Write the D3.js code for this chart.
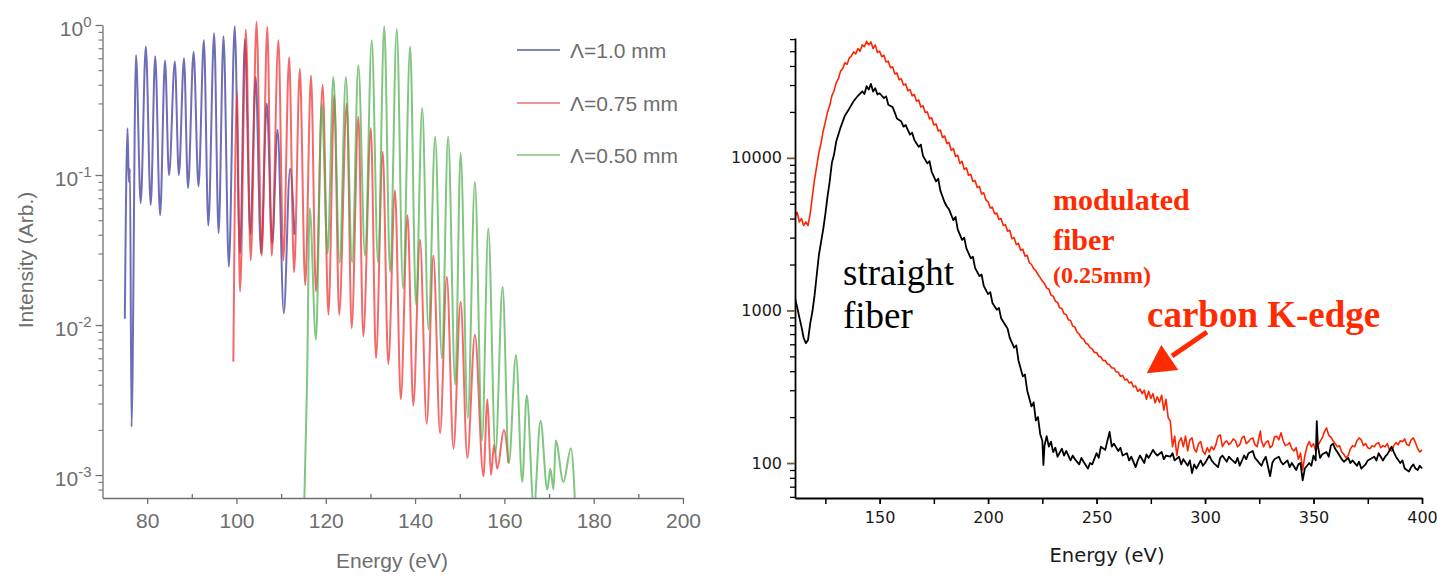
<!DOCTYPE html>
<html><head><meta charset="utf-8">
<script src="https://cdn.jsdelivr.net/npm/d3@7"></script>
<style>body{margin:0;background:#fff;} svg{display:block;}</style>
</head><body>
<svg id="c" width="1437" height="576"></svg>
<script>
// ---------- LEFT CHART DATA: [energy eV, intensity] ----------
const seriesNames = ["\u039B=1.0 mm", "\u039B=0.75 mm", "\u039B=0.50 mm"];
const leftXTicks = [80, 100, 120, 140, 160, 180, 200];
const leftXMinor = [90, 110, 130, 150, 170, 190];
const leftYTicks = [1e-3, 1e-2, 1e-1, 1];
const leftYExp = ["-3", "-2", "-1", "0"];

const blue10 = [[75.0,0.011],[75.6,0.205],[75.9,0.09],[76.15,0.11],[76.5,0.0021],[77.5,0.63],[78.55,0.065],[79.7,0.72],[80.8,0.063],[81.8,0.62],[82.9,0.054],[84.0,0.58],[84.9,0.1],[86.2,0.57],[87.1,0.1],[88.25,0.6],[89.15,0.082],[90.4,0.66],[91.5,0.084],[92.7,0.79],[93.7,0.046],[95.0,0.88],[96.0,0.041],[97.1,0.84],[98.3,0.0245],[99.6,0.98],[100.8,0.03],[101.9,0.8],[103.1,0.04],[104.3,0.45],[105.5,0.03],[106.8,0.3],[108.0,0.035],[109.2,0.2],[110.6,0.012],[112.0,0.11],[113.0,0.04]];

const red075 = [[99.3,0.0057],[100.1,0.36],[100.8,0.0167],[102.1,0.93],[103.2,0.027],[104.5,1.05],[105.65,0.029],[106.9,0.97],[107.9,0.029],[109.4,0.79],[110.5,0.027],[111.8,0.61],[112.9,0.0225],[114.2,0.51],[115.4,0.0184],[116.7,0.46],[117.8,0.0167],[119.3,0.40],[120.6,0.0117],[121.9,0.34],[123.0,0.0117],[124.7,0.30],[125.8,0.0095],[127.3,0.245],[128.4,0.0084],[130.1,0.205],[131.25,0.006],[132.75,0.143],[134.0,0.0055],[135.5,0.079],[136.8,0.0032],[138.3,0.054],[139.6,0.0029],[141.1,0.037],[142.6,0.0022],[144.1,0.029],[145.6,0.0019],[147.1,0.021],[148.6,0.0015],[150.2,0.0143],[151.7,0.0013],[153.4,0.0086],[155.3,0.00098],[156.2,0.0032],[157.0,0.001],[157.7,0.0016],[158.4,0.0011],[159.9,0.002],[160.9,0.0012]];

const green050 = [[115.1,0.0005],[115.8,0.004],[116.4,0.06],[117.8,0.008],[119.1,0.3],[120.4,0.03],[121.7,0.45],[123.1,0.026],[124.5,0.45],[125.9,0.026],[127.3,0.54],[128.8,0.029],[130.3,0.79],[131.7,0.026],[133.1,0.98],[134.4,0.0226],[135.9,0.94],[137.3,0.0176],[138.9,0.72],[140.2,0.0137],[141.6,0.28],[143.0,0.0093],[144.5,0.18],[146.0,0.006],[147.4,0.18],[149.0,0.004],[150.2,0.14],[151.8,0.0024],[153.4,0.09],[155.0,0.0017],[156.4,0.044],[158.0,0.0014],[159.6,0.018],[161.0,0.0012],[162.6,0.0063],[164.0,0.0009],[165.0,0.0034],[166.6,0.0006],[168.1,0.0023],[169.6,0.0008],[170.3,0.0011],[171.0,0.0008],[171.5,0.0017],[173.2,0.0009],[174.9,0.0015],[176.0,0.0005]];

// ---------- RIGHT CHART DATA: [energy eV, counts] ----------
const rightXTicks = [150, 200, 250, 300, 350, 400];
const rightXMinor = [125, 175, 225, 275, 325, 375];
const rightYTicks = [100, 1000, 10000];

const straightFiber = [[110,1300],[111,1200],[112,1050],[113,900],[114,780],[115,660],[116,610],[117,640],[118,820],[119,980],[120,1250],[121,1700],[122,2300],[123,2800],[124,3400],[125,4300],[126,5600],[127,7000],[128,9300],[129,10500],[130,12800],[132,15800],[134,18900],[136,21000],[138,23500],[140,25500],[142,27300],[143,26200],[144,29500],[145,28000],[146,30500],[147,27200],[148,28600],[149,26000],[150,26500],[152,24600],[153,25300],[154,22300],[156,21500],[157,19800],[158,18100],[160,17300],[161,16000],[162,16400],[164,14200],[165,14600],[166,13100],[168,11800],[169,12200],[170,10300],[172,9200],[173,9500],[174,8100],[176,7000],[177,7300],[178,6100],[180,5100],[181,4800],[182,4600],[184,3900],[185,4100],[186,3400],[188,2900],[189,3000],[190,2550],[192,2200],[193,2250],[194,1900],[196,1680],[197,1720],[198,1450],[200,1280],[201,1320],[202,1120],[204,1010],[205,1040],[206,890],[208,800],[209,760],[210,660],[212,570],[213,590],[214,470],[216,370],[217,380],[218,300],[220,235],[221,250],[222,190],[223,200],[224,155],[225,140],[225.5,97],[226,130],[227,150],[228,128],[229,138],[230,118],[231,126],[232,110],[234,124],[235,112],[236,120],[238,104],[239,112],[240,106],[242,98],[243,108],[244,102],[246,92],[247,100],[248,98],[250,116],[251,108],[252,128],[254,122],[255,140],[256,160],[257,128],[258,134],[260,120],[261,126],[262,112],[264,116],[265,104],[266,110],[268,94],[269,104],[270,112],[272,100],[273,114],[274,108],[276,122],[277,116],[278,112],[280,118],[281,106],[282,112],[284,110],[285,116],[286,104],[288,110],[289,98],[290,106],[292,96],[293,104],[294,86],[295,98],[296,92],[298,104],[299,96],[300,100],[302,112],[303,104],[304,100],[306,94],[307,108],[308,112],[310,102],[311,110],[312,106],[314,100],[315,108],[316,96],[318,112],[319,106],[320,116],[322,120],[323,108],[324,104],[326,96],[327,104],[328,110],[330,82],[331,100],[332,106],[334,110],[335,102],[336,98],[338,104],[339,94],[340,100],[342,90],[343,98],[344,100],[345,77],[346,92],[348,100],[349,96],[350,112],[351,104],[351.5,188],[352,130],[353,108],[354,114],[356,118],[357,110],[358,130],[359,134],[360,124],[362,112],[363,106],[364,102],[366,108],[367,100],[368,104],[370,96],[371,102],[372,92],[374,98],[375,104],[376,106],[378,110],[379,104],[380,116],[382,104],[383,110],[384,114],[386,128],[387,118],[388,110],[390,100],[391,104],[392,92],[394,88],[395,94],[396,98],[397,92],[398,90],[399,96],[400,92]];

const modulatedFiber = [[110,4500],[111,4100],[112,4400],[113,3800],[114,4000],[115,3600],[116,3800],[117,3600],[118,4300],[119,5600],[120,7200],[121,8800],[122,10800],[123,12500],[124,15000],[125,17200],[126,20000],[127,22000],[128,25500],[129,27500],[130,31000],[131,33000],[132,37000],[133,38500],[134,42000],[135,41000],[136,45000],[137,46500],[138,49500],[139,48000],[140,52000],[141,50000],[142,55000],[143,53500],[144,58000],[145,55000],[146,57500],[147,52000],[148,55000],[149,49000],[150,50000],[151,46000],[152,47000],[153,42500],[154,43000],[155,39000],[156,39500],[157,35500],[158,36000],[159,32500],[160,33000],[161,30000],[162,30500],[163,27500],[164,28000],[165,25500],[166,26000],[167,23500],[168,24000],[169,21500],[170,22000],[171,19800],[172,20000],[173,18000],[174,18300],[175,16400],[176,16700],[177,15000],[178,15200],[179,13600],[180,13900],[181,12400],[182,12600],[183,11200],[184,11500],[185,10200],[186,10400],[187,9200],[188,9500],[189,8400],[190,8600],[191,7700],[192,7800],[193,7000],[194,7100],[195,6400],[196,6500],[197,5800],[198,5900],[199,5300],[200,5150],[201,4700],[202,4750],[203,4300],[204,4350],[205,3950],[206,4000],[207,3600],[208,3650],[209,3300],[210,3350],[211,2950],[212,3000],[213,2700],[214,2750],[215,2480],[216,2520],[217,2270],[218,2300],[219,2060],[220,2000],[221,1880],[222,1820],[223,1720],[224,1640],[225,1560],[226,1500],[227,1400],[228,1380],[229,1260],[230,1240],[231,1150],[232,1130],[233,1040],[234,1030],[235,950],[236,940],[237,870],[238,860],[239,790],[240,780],[241,720],[242,700],[243,660],[244,650],[245,610],[246,600],[247,570],[248,560],[249,530],[250,530],[251,500],[252,495],[253,470],[254,470],[255,445],[256,440],[257,420],[258,420],[259,395],[260,395],[261,370],[262,375],[263,350],[264,355],[265,335],[266,340],[267,315],[268,320],[269,295],[270,305],[271,285],[272,300],[273,262],[274,295],[275,265],[276,285],[277,248],[278,272],[279,250],[280,278],[281,222],[282,262],[283,198],[284,188],[285,128],[286,150],[287,112],[288,138],[289,146],[290,128],[291,150],[292,120],[293,142],[294,146],[295,124],[296,118],[297,134],[298,138],[299,120],[300,114],[301,126],[302,118],[303,128],[304,122],[305,132],[306,150],[307,153],[308,128],[309,136],[310,140],[311,132],[312,136],[313,144],[314,140],[315,128],[316,132],[317,146],[318,150],[319,134],[320,138],[321,144],[322,146],[323,132],[324,128],[325,150],[325.5,162],[326,140],[327,128],[328,136],[329,140],[330,126],[331,130],[332,148],[333,150],[334,142],[335,158],[336,140],[337,130],[338,132],[339,136],[340,124],[341,120],[342,126],[343,106],[344,116],[345,90],[346,112],[347,128],[348,138],[349,128],[350,134],[351,120],[352,130],[353,138],[354,146],[355,160],[356,170],[357,152],[358,148],[359,140],[360,134],[361,128],[362,130],[363,118],[364,114],[365,108],[366,112],[367,124],[368,130],[369,128],[370,140],[371,146],[372,142],[373,130],[374,134],[375,126],[376,124],[377,130],[378,128],[379,134],[380,136],[381,126],[382,130],[383,128],[384,134],[385,122],[386,120],[387,130],[388,136],[389,132],[390,140],[391,138],[392,144],[393,132],[394,130],[395,142],[396,146],[397,136],[398,124],[399,118],[400,122]];

// ---------- DRAW ----------
const svg = d3.select("#c");
const LFONT = "'Liberation Sans', Arial, Helvetica, sans-serif";
const LGRAY = "#6e6e6e";

// LEFT
const xL = d3.scaleLinear().domain([70, 200]).range([102.5, 683]);
const yL = d3.scaleLog().domain([7.03e-4, 1]).range([498, 25]);

svg.append("clipPath").attr("id","clipL").append("rect")
  .attr("x", 102).attr("y", 10).attr("width", 585).attr("height", 488);

const lineL = d3.line().x(d => xL(d[0])).y(d => yL(d[1])).curve(d3.curveMonotoneX);
const leftSeries = [
  {data: blue10, color: "#36369a", legend: "#7f88ad"},
  {data: red075, color: "#ee3030", legend: "#f39393"},
  {data: green050, color: "#4fae4f", legend: "#9fd09f"}
];
const gL = svg.append("g").attr("clip-path", "url(#clipL)");
leftSeries.forEach(s => {
  gL.append("path").attr("d", lineL(s.data)).attr("fill", "none")
    .attr("stroke", s.color).attr("stroke-width", 2).attr("stroke-opacity", 0.72)
    .attr("stroke-linejoin", "round");
});

function styleAxis(g, color, width) {
  g.select(".domain").attr("stroke", color).attr("stroke-width", width);
  g.selectAll(".tick line").attr("stroke", color).attr("stroke-width", width);
}

// left x axis
const gxL = svg.append("g").attr("transform", "translate(0,498)")
  .call(d3.axisBottom(xL).tickValues(leftXTicks).tickSize(6).tickPadding(9).tickSizeOuter(0).tickFormat(d3.format("d")));
styleAxis(gxL, "#707070", 1.3);
gxL.selectAll(".tick text").attr("fill", LGRAY).attr("font-size", "21px").attr("font-family", LFONT);
const gxLm = svg.append("g").attr("transform", "translate(0,498)")
  .call(d3.axisBottom(xL).tickValues(leftXMinor).tickSize(-4).tickSizeOuter(0).tickFormat(""));
styleAxis(gxLm, "#707070", 1.3);
gxLm.select(".domain").remove();

// left y axis
const gyL = svg.append("g").attr("transform", "translate(102.5,0)")
  .call(d3.axisLeft(yL).tickValues(leftYTicks).tickSize(7).tickPadding(4).tickSizeOuter(0));
styleAxis(gyL, "#707070", 1.3);
gyL.selectAll(".tick text").each(function(d, i) {
  const t = d3.select(this);
  t.text(null).attr("fill", LGRAY).attr("font-size", "21px").attr("font-family", LFONT).attr("dy", "0.5em");
  t.append("tspan").text("10");
  t.append("tspan").attr("dy", "-0.6em").attr("font-size", "15px").text(leftYExp[i]);
});
const minorL = yL.ticks().filter(v => !leftYTicks.some(m => Math.abs(m - v) / m < 1e-6));
const gyLm = svg.append("g").attr("transform", "translate(102.5,0)")
  .call(d3.axisLeft(yL).tickValues(minorL).tickSize(4).tickSizeOuter(0).tickFormat(""));
styleAxis(gyLm, "#707070", 1.1);
gyLm.select(".domain").remove();

svg.append("text").attr("x", 392).attr("y", 568).attr("text-anchor", "middle")
  .attr("font-family", LFONT).attr("font-size", "21px").attr("fill", LGRAY).text("Energy (eV)");
svg.append("text").attr("transform", "translate(33,260) rotate(-90)").attr("text-anchor", "middle")
  .attr("font-family", LFONT).attr("font-size", "21px").attr("fill", LGRAY).text("Intensity (Arb.)");

// legend
const legendY = [50, 103, 155];
leftSeries.forEach((s, i) => {
  svg.append("line").attr("x1", 517).attr("x2", 560).attr("y1", legendY[i]).attr("y2", legendY[i])
    .attr("stroke", s.legend).attr("stroke-width", 1.8);
  svg.append("text").attr("x", 570).attr("y", legendY[i]).attr("dy", "0.36em")
    .attr("font-family", LFONT).attr("font-size", "21px").attr("fill", LGRAY).text(seriesNames[i]);
});

// RIGHT
const RFONT = "'DejaVu Sans', Verdana, sans-serif";
const xR = d3.scaleLinear().domain([111, 400]).range([795, 1422]);
const yR = d3.scaleLog().domain([59, 61000]).range([498, 38]);

svg.append("clipPath").attr("id","clipR").append("rect")
  .attr("x", 795).attr("y", 30).attr("width", 640).attr("height", 468);
const lineR = d3.line().x(d => xR(d[0])).y(d => yR(d[1]));
const gR = svg.append("g").attr("clip-path", "url(#clipR)");
gR.append("path").attr("d", lineR(modulatedFiber)).attr("fill", "none")
  .attr("stroke", "#ff2400").attr("stroke-width", 1.6).attr("stroke-linejoin", "round");
gR.append("path").attr("d", lineR(straightFiber)).attr("fill", "none")
  .attr("stroke", "#000").attr("stroke-width", 1.8).attr("stroke-linejoin", "round");

// right x axis
const gxR = svg.append("g").attr("transform", "translate(0,498)")
  .call(d3.axisBottom(xR).tickValues(rightXTicks).tickSize(6).tickPadding(8).tickSizeOuter(0).tickFormat(d3.format("d")));
styleAxis(gxR, "#000", 1.8);
gxR.selectAll(".tick text").attr("fill", "#1a1a1a").attr("font-size", "16px").attr("font-family", RFONT);
const gxRm = svg.append("g").attr("transform", "translate(0,498)")
  .call(d3.axisBottom(xR).tickValues(rightXMinor).tickSize(6).tickSizeOuter(0).tickFormat(""));
styleAxis(gxRm, "#000", 1.5);
gxRm.select(".domain").remove();

// right y axis
const gyR = svg.append("g").attr("transform", "translate(795,0)")
  .call(d3.axisLeft(yR).tickValues(rightYTicks).tickSize(8).tickPadding(5).tickSizeOuter(0).tickFormat(d3.format("d")));
styleAxis(gyR, "#000", 1.8);
gyR.selectAll(".tick line").attr("stroke", "#7a5a2a");
gyR.selectAll(".tick text").attr("fill", "#1a1a1a").attr("font-size", "16px").attr("font-family", RFONT);
const minorR = yR.ticks().filter(v => !rightYTicks.includes(v));
const gyRm = svg.append("g").attr("transform", "translate(795,0)")
  .call(d3.axisLeft(yR).tickValues(minorR).tickSize(5).tickSizeOuter(0).tickFormat(""));
styleAxis(gyRm, "#000", 1.3);
gyRm.select(".domain").remove();

svg.append("text").attr("x", 1107).attr("y", 562).attr("text-anchor", "middle")
  .attr("font-family", RFONT).attr("font-size", "19.5px").attr("fill", "#1a1a1a").text("Energy (eV)");

// annotations
const SERIF = "'Liberation Serif', 'Times New Roman', serif";
const RED = "#ff2a00";
svg.append("text").attr("x", 843).attr("y", 285).attr("font-family", SERIF).attr("font-size", "37px").attr("fill", "#000").text("straight");
svg.append("text").attr("x", 843).attr("y", 328).attr("font-family", SERIF).attr("font-size", "37px").attr("fill", "#000").text("fiber");
svg.append("text").attr("x", 1053).attr("y", 210).attr("font-family", SERIF).attr("font-weight", "bold").attr("font-size", "30px").attr("fill", RED).text("modulated");
svg.append("text").attr("x", 1053).attr("y", 250).attr("font-family", SERIF).attr("font-weight", "bold").attr("font-size", "30px").attr("fill", RED).text("fiber");
svg.append("text").attr("x", 1053).attr("y", 283).attr("font-family", SERIF).attr("font-weight", "bold").attr("font-size", "24px").attr("fill", RED).text("(0.25mm)");
svg.append("text").attr("x", 1147).attr("y", 327).attr("font-family", SERIF).attr("font-weight", "bold").attr("font-size", "37px").attr("fill", RED).text("carbon K-edge");
svg.append("line").attr("x1", 1207).attr("y1", 332).attr("x2", 1172).attr("y2", 356)
  .attr("stroke", RED).attr("stroke-width", 5);
svg.append("path").attr("d", "M1146.7,373.3 L1178.3,369.9 L1161.3,345.1 Z").attr("fill", RED);
</script>
</body></html>
